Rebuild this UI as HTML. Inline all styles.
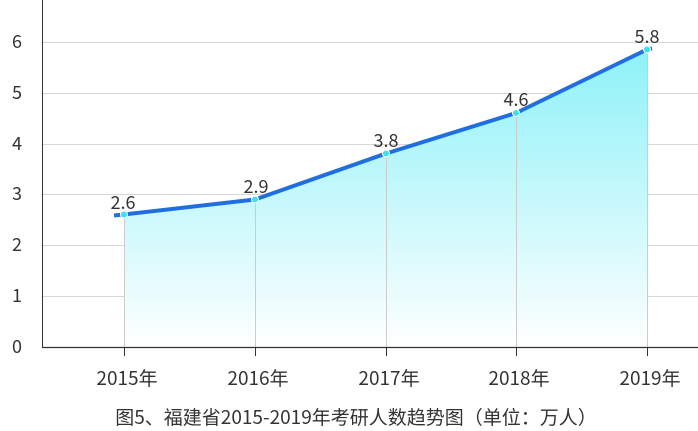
<!DOCTYPE html>
<html><head><meta charset="utf-8"><style>
body{margin:0;background:#fff;}
svg{display:block;font-family:"Noto Sans CJK SC","Liberation Sans",sans-serif;}
</style></head><body>
<svg width="698" height="431" viewBox="0 0 698 431">
<defs>
<linearGradient id="g" gradientUnits="userSpaceOnUse" x1="0" y1="52" x2="0" y2="347">
<stop offset="0" stop-color="#8ef2f8"/>
<stop offset="0.5" stop-color="#c6f8fb"/>
<stop offset="1" stop-color="#ffffff"/>
</linearGradient>
</defs>
<g stroke="#d6d6d6" stroke-width="1">
<line x1="42" y1="42.5" x2="698" y2="42.5"/>
<line x1="42" y1="93.5" x2="698" y2="93.5"/>
<line x1="42" y1="144.5" x2="698" y2="144.5"/>
<line x1="42" y1="194.5" x2="698" y2="194.5"/>
<line x1="42" y1="245.5" x2="698" y2="245.5"/>
<line x1="42" y1="296.5" x2="698" y2="296.5"/>
</g>
<polygon points="124,214.5 255,199.5 386,153.5 516,113 647,49.5 647,347 124,347" fill="url(#g)"/>
<g stroke="#cccccc" stroke-width="1">
<line x1="124.5" y1="214" x2="124.5" y2="347"/>
<line x1="255.5" y1="199" x2="255.5" y2="347"/>
<line x1="386.5" y1="153" x2="386.5" y2="347"/>
<line x1="516.5" y1="113" x2="516.5" y2="347"/>
<line x1="647.5" y1="50" x2="647.5" y2="347"/>
</g>
<line x1="42.5" y1="0" x2="42.5" y2="347" stroke="#333" stroke-width="1"/>
<line x1="42" y1="347.5" x2="698" y2="347.5" stroke="#333" stroke-width="1.2"/>
<g stroke="#333" stroke-width="1">
<line x1="124.5" y1="347" x2="124.5" y2="356"/>
<line x1="255.5" y1="347" x2="255.5" y2="356"/>
<line x1="386.5" y1="347" x2="386.5" y2="356"/>
<line x1="516.5" y1="347" x2="516.5" y2="356"/>
<line x1="647.5" y1="347" x2="647.5" y2="356"/>
</g>
<polyline points="114,215.5 124,214.5 255,199.5 386,153.5 516,113 647,49.5 652,48.5" fill="none" stroke="#1f6fe0" stroke-width="4" stroke-linejoin="round"/>
<g fill="#3ee0f0" stroke="#fff" stroke-width="1">
<circle cx="124" cy="214.5" r="3.5"/><circle cx="255" cy="199.5" r="3.5"/><circle cx="386" cy="153.5" r="3.5"/><circle cx="516" cy="113" r="3.5"/><circle cx="647" cy="49.5" r="3.5"/>
</g>
<g font-size="18" fill="#333" text-anchor="middle">
<text x="123" y="209">2.6</text><text x="256" y="193">2.9</text><text x="386" y="147">3.8</text><text x="516" y="106">4.6</text><text x="647" y="43">5.8</text>
</g>
<g font-size="18" fill="#333" text-anchor="end">
<text x="22" y="353">0</text><text x="22" y="302">1</text><text x="22" y="251">2</text><text x="22" y="200">3</text><text x="22" y="150">4</text><text x="22" y="99">5</text><text x="22" y="48">6</text>
</g>
<g font-size="19" fill="#333" text-anchor="middle">
<text x="127" y="385">2015年</text><text x="258" y="385">2016年</text><text x="389" y="385">2017年</text><text x="519" y="385">2018年</text><text x="650" y="385">2019年</text>
</g>
<text x="356" y="424" font-size="19" fill="#333" text-anchor="middle">图5、福建省2015-2019年考研人数趋势图（单位：万人）</text>
</svg>
</body></html>
